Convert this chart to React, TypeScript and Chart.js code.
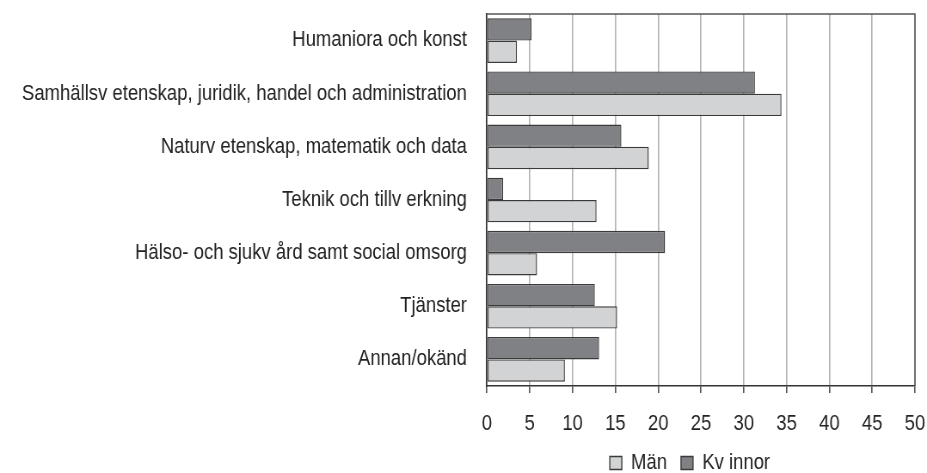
import React, { useEffect, useRef } from "react";
import { Chart, registerables } from "chart.js";

Chart.register(...registerables);

const categories = [
  "Humaniora och konst",
  "Samhällsv etenskap, juridik, handel och administration",
  "Naturv etenskap, matematik och data",
  "Teknik och tillv erkning",
  "Hälso- och sjukv ård samt social omsorg",
  "Tjänster",
  "Annan/okänd",
];
const kvinnor = [5.2, 31.3, 15.7, 1.9, 20.8, 12.6, 13.1];
const man = [3.5, 34.4, 18.9, 12.8, 5.85, 15.2, 9.1];
const xTicksMin = 0;
const xTicksMax = 50;
const xTickStep = 5;

// the reference uses a condensed face; we draw on a wider canvas and squeeze it horizontally
const SQUEEZE = 0.86;
const VIEW_W = 927;
const VIEW_H = 473;
const CANVAS_W = Math.round(VIEW_W / SQUEEZE);
const sx = (v: number) => v / SQUEEZE;

const FONT = '"Liberation Sans", Arial, Helvetica, sans-serif';
const FONT_SIZE = 21.5;
const LEGEND_H = 49;
const BOTTOM_PAD = -12;
const PLOT_BOTTOM = 386;

const framePlugin = {
  id: "frame",
  afterDatasetsDraw(chart: any) {
    const { ctx, chartArea } = chart;
    ctx.save();
    ctx.strokeStyle = "#555";
    ctx.lineWidth = 1.5;
    ctx.beginPath();
    ctx.moveTo(chartArea.left, chartArea.top);
    ctx.lineTo(chartArea.right, chartArea.top);
    ctx.lineTo(chartArea.right, chartArea.bottom);
    ctx.stroke();
    ctx.restore();
  },
};

const legendShift = {
  id: "legendShift",
  beforeLayout(chart: any) {
    const lg = chart.legend;
    if (!lg || lg.__patched) return;
    const orig = lg.fit;
    lg.fit = function () {
      orig.call(this);
      this.height = LEGEND_H;
    };
    lg.__patched = true;
  },
  afterLayout(chart: any) {
    const lg = chart.legend;
    if (!lg) return;
    const desired = sx(690);
    const shift = desired - (lg.left + lg.right) / 2;
    lg.left += shift;
    lg.right += shift;
  },
};

export default function App() {
  const ref = useRef<HTMLCanvasElement>(null);
  useEffect(() => {
    if (!ref.current) return;
    const chart = new Chart(ref.current, {
      type: "bar",
      data: {
        labels: categories,
        datasets: [
          {
            label: "Kv innor",
            data: kvinnor,
            backgroundColor: "#808184",
            borderColor: "#3a3a3a",
            borderWidth: 1.4,
            borderSkipped: false,
            categoryPercentage: 0.84,
            barPercentage: 1.0,
          },
          {
            label: "Män",
            data: man,
            backgroundColor: "#d2d3d5",
            borderColor: "#3a3a3a",
            borderWidth: 1.4,
            borderSkipped: false,
            categoryPercentage: 0.84,
            barPercentage: 1.0,
          },
        ],
      },
      options: {
        indexAxis: "y",
        animation: false,
        responsive: false,
        maintainAspectRatio: false,
        devicePixelRatio: 1,
        layout: { padding: { top: 14, right: sx(12), left: 0, bottom: BOTTOM_PAD } },
        plugins: {
          tooltip: { enabled: false },
          legend: {
            position: "bottom",
            labels: {
              sort: (a: any, b: any) => b.datasetIndex - a.datasetIndex,
              boxWidth: sx(12),
              boxHeight: 13,
              padding: sx(14),
              color: "#222",
              font: { family: FONT, size: FONT_SIZE },
            },
          },
        },
        scales: {
          x: {
            min: xTicksMin,
            max: xTicksMax,
            ticks: {
              stepSize: xTickStep,
              padding: 18,
              color: "#222",
              font: { family: FONT, size: FONT_SIZE },
            },
            grid: {
              color: "#b3b3b3",
              lineWidth: 1.6,
              tickColor: "#555",
              tickLength: 7,
            },
            border: { color: "#333", width: 1.6 },
            afterFit: (s: any) => {
              s.height = VIEW_H - BOTTOM_PAD - LEGEND_H - PLOT_BOTTOM;
              s.paddingLeft = 0;
              s.paddingRight = 0;
            },
          },
          y: {
            ticks: {
              padding: sx(20),
              color: "#222",
              font: { family: FONT, size: FONT_SIZE },
            },
            grid: { display: false, drawTicks: false },
            border: { color: "#333", width: 1.6 },
            afterFit: (s: any) => {
              s.width = sx(487);
              s.paddingTop = 0;
              s.paddingBottom = 0;
            },
          },
        },
      },
      plugins: [framePlugin, legendShift],
    });
    return () => chart.destroy();
  }, []);
  return (
    <div style={{ position: "fixed", left: 0, top: 0, width: VIEW_W, height: VIEW_H, background: "#fff" }}>
      <canvas
        ref={ref}
        width={CANVAS_W}
        height={VIEW_H}
        style={{ width: VIEW_W + "px", height: VIEW_H + "px", display: "block" }}
      />
    </div>
  );
}
